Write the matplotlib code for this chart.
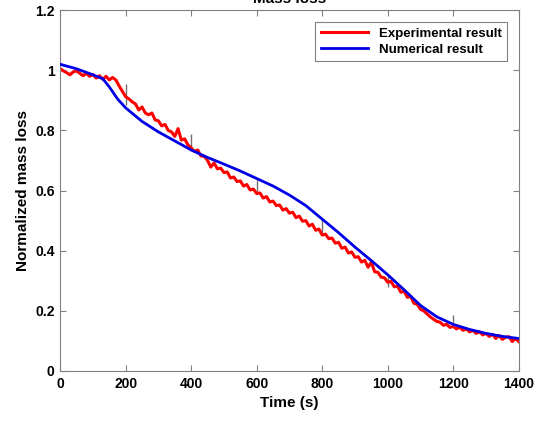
import matplotlib.pyplot as plt
import numpy as np

plt.rcParams['font.family'] = ['Liberation Sans', 'DejaVu Sans']
plt.rcParams['font.weight'] = 'bold'

# experimental curve, read every 10 s
t_exp = np.arange(0, 1401, 10)
m_exp = [1.005, 0.998, 0.992, 0.985, 0.995, 0.998, 0.99, 0.982, 0.99, 0.98,
         0.986, 0.974, 0.982, 0.97, 0.98, 0.968, 0.976, 0.968, 0.948, 0.93,
         0.912, 0.905, 0.895, 0.888, 0.868, 0.878, 0.858, 0.852, 0.858, 0.835,
         0.832, 0.815, 0.82, 0.8, 0.795, 0.78, 0.806, 0.768, 0.772, 0.752,
         0.742, 0.73, 0.735, 0.715, 0.714, 0.7, 0.678, 0.692, 0.672, 0.675,
         0.66, 0.662, 0.642, 0.645, 0.63, 0.632, 0.615, 0.62, 0.602, 0.605,
         0.59, 0.592, 0.575, 0.58, 0.562, 0.565, 0.55, 0.552, 0.535, 0.54,
         0.525, 0.528, 0.51, 0.515, 0.498, 0.5, 0.482, 0.488, 0.468, 0.472,
         0.452, 0.455, 0.44, 0.442, 0.425, 0.428, 0.408, 0.412, 0.392, 0.396,
         0.378, 0.38, 0.362, 0.368, 0.345, 0.362, 0.33, 0.328, 0.312, 0.31,
         0.295, 0.298, 0.28, 0.282, 0.262, 0.265, 0.245, 0.248, 0.225, 0.222,
         0.205, 0.2, 0.19, 0.18, 0.172, 0.165, 0.162, 0.152, 0.155, 0.145,
         0.148, 0.14, 0.145, 0.135, 0.14, 0.13, 0.135, 0.125, 0.13, 0.12,
         0.125, 0.115, 0.122, 0.108, 0.118, 0.105, 0.112, 0.114, 0.098, 0.108,
         0.098]

# numerical curve
t_num = [0, 50, 100, 130, 150, 175, 200, 250, 300, 350, 400, 450, 500, 550,
         600, 650, 700, 750, 800, 850, 900, 950, 1000, 1050, 1100, 1150,
         1200, 1250, 1300, 1350, 1400]
m_num = [1.02, 1.005, 0.985, 0.972, 0.945, 0.905, 0.875, 0.83, 0.795, 0.765,
         0.735, 0.71, 0.688, 0.665, 0.64, 0.615, 0.585, 0.55, 0.505, 0.46,
         0.412, 0.367, 0.32, 0.27, 0.218, 0.18, 0.155, 0.138, 0.125, 0.115,
         0.108]

# error bars
t_err = [200, 400, 600, 800, 1000, 1200]
err_lo = [0.884, 0.73, 0.596, 0.452, 0.28, 0.147]
err_hi = [0.956, 0.789, 0.635, 0.502, 0.319, 0.186]

fig = plt.figure(figsize=(5.37, 4.23), dpi=100)
ax = fig.add_axes([0.112, 0.123, 0.854, 0.853])

ax.vlines(t_err, err_lo, err_hi, color='#707070', linewidth=1, zorder=1)
ax.plot(t_exp, m_exp, color='#ff0000', linewidth=2.2, label='Experimental result', zorder=2)
ax.plot(t_num, m_num, color='#0000e6', linewidth=2, label='Numerical result', zorder=3)

ax.set_xlim(0, 1400)
ax.set_ylim(0, 1.2)
ax.set_xticks(np.arange(0, 1401, 200))
ax.set_yticks([0, 0.2, 0.4, 0.6, 0.8, 1, 1.2])
ax.set_yticklabels(['0', '0.2', '0.4', '0.6', '0.8', '1', '1.2'])
ax.tick_params(direction='in', top=True, right=True, length=4, width=0.8,
               color='#808080', labelsize=10, pad=4)
for s in ax.spines.values():
    s.set_color('#808080')
    s.set_linewidth(0.8)

ax.set_xlabel('Time (s)', fontsize=11, fontweight='bold')
ax.set_ylabel('Normalized mass loss', fontsize=11, fontweight='bold')
ax.set_title('Mass loss', fontsize=11, fontweight='bold', pad=5)

leg = ax.legend(loc='upper right', fontsize=9.5, handlelength=3.6,
                fancybox=False, edgecolor='#808080', framealpha=1,
                borderaxespad=0.9, labelspacing=0.3)
leg.get_frame().set_linewidth(0.8)

fig.savefig('out.png', dpi=100)
